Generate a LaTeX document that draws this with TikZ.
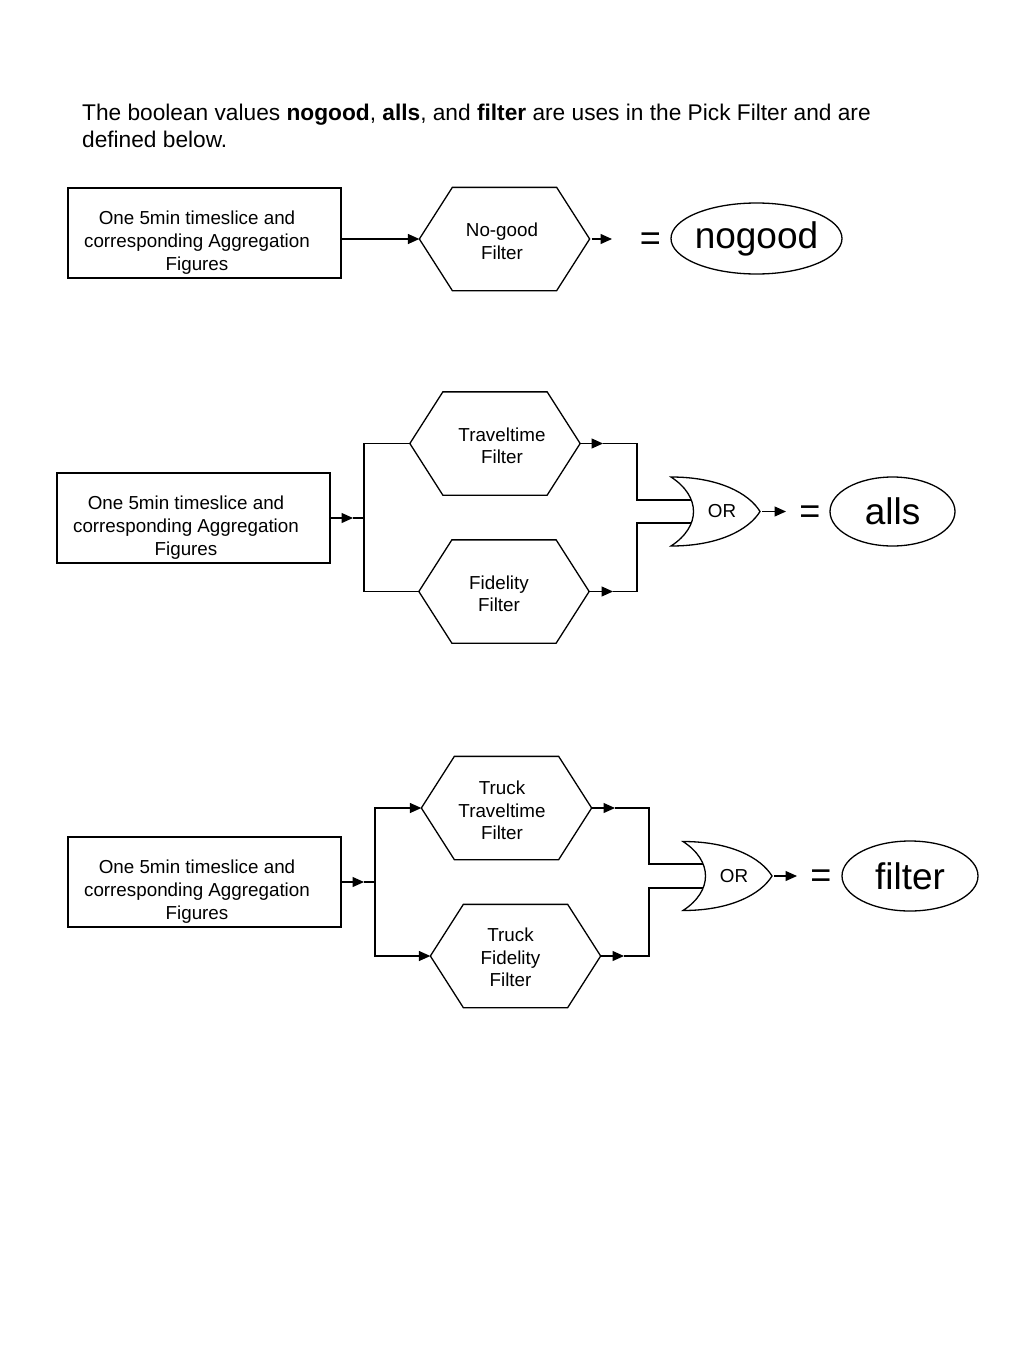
\documentclass[tikz,border=0pt]{standalone}
\usepackage{fontspec}
\setmainfont{Liberation Sans}
\usetikzlibrary{arrows.meta,shapes.geometric}
\newcommand\hexshape[1]{\draw (#1.west) -- ([xshift=33pt]#1.north west) -- ([xshift=-33pt]#1.north east) -- (#1.east) -- ([xshift=-33pt]#1.south east) -- ([xshift=33pt]#1.south west) -- cycle;}
\newcommand\orgate[3]{%
  \coordinate (#1-tip) at (#2+91,#3);
  \draw[fill=white] (#2+2,#3-34.5) .. controls (#2+32,#3-15) and (#2+32,#3+15) .. (#2+2,#3+34.5)
     .. controls (#2+50,#3+34.5) and (#2+80,#3+18) .. (#1-tip)
     .. controls (#2+80,#3-18) and (#2+50,#3-34.5) .. (#2+2,#3-34.5) -- cycle;
  \node[gatetext] (#1) at (#2+53,#3) {OR};
}
\begin{document}
\begin{tikzpicture}[x=1pt,y=-1pt,line width=1.3pt,
  >={Triangle[length=11.5pt,width=10pt]},
  box/.style={draw, minimum width=273pt, minimum height=90pt, inner sep=0pt},
  boxtext/.style={inner sep=0pt, align=center, font=\fontsize{18.8}{23}\selectfont, text height=75.6pt, text depth=0pt},
  hexa/.style={minimum width=169pt, minimum height=102pt, inner sep=0pt},
  hextext/.style={inner sep=0pt, align=center, font=\fontsize{18.8}{22.5}\selectfont, text height=40.6pt, text depth=0pt},
  gatetext/.style={inner sep=0pt, font=\fontsize{18.8}{22}\selectfont},
  eqsign/.style={inner sep=0pt, font=\fontsize{36}{40}\selectfont},
  result/.style={draw, ellipse, inner sep=0pt, font=\fontsize{37}{40}\selectfont}]
\useasboundingbox (0,0) rectangle (1024,1365);

\node[anchor=north west, inner sep=0pt, align=left, font=\fontsize{22.7}{27}\selectfont] (title) at (81.5,103.5)
  {The boolean values \textbf{nogood}, \textbf{alls}, and \textbf{filter} are uses in the Pick Filter and are\\defined below.};

% ---------- section 1
\node[box] (b1) at (204.5,233) {};
\node[boxtext] (b1t) at ([xshift=-7.5pt]b1.center) {One 5min timeslice and\\corresponding Aggregation\\Figures};
\node[hexa] (h1) at (504.5,239) {};
\hexshape{h1}
\node[hextext] (h1t) at ([xshift=-2.5pt]h1.center) {No-good\\Filter};
\draw[->] (b1.east |- h1.west) -- (h1.west);
\coordinate (e1) at (612,239);
\draw[->] ([xshift=2pt]h1.east) -- (e1);
\node[eqsign] (eq1) at (650.5,242) {=};
\node[result, minimum width=171pt, minimum height=71pt] (r1) at (756.5,238.5) {\makebox[0pt]{nogood}};

% ---------- section 2
\node[box] (b2) at (193.5,518) {};
\node[boxtext] (b2t) at ([xshift=-7.5pt]b2.center) {One 5min timeslice and\\corresponding Aggregation\\Figures};
\node[hexa] (h2a) at (495,443.5) {};
\node[hexa] (h2b) at (504,591.5) {};
\hexshape{h2a}
\hexshape{h2b}
\node[hextext] (h2at) at ([xshift=7pt]h2a.center) {Traveltime\\Filter};
\node[hextext] (h2bt) at ([xshift=-5pt]h2b.center) {Fidelity\\Filter};
\coordinate (j2a) at (353,518);
\coordinate (j2) at (364,518);
\draw[->] (b2.east) -- (j2a);
\draw (j2a) -- (j2) |- (h2a.west);
\draw (j2) |- (h2b.west);
\coordinate (o2a) at (603,443.5);
\coordinate (o2b) at (613,591.5);
\coordinate (k2) at (637,511.5);
\coordinate (g2a) at (699,500);
\coordinate (g2b) at (699,523);
\draw[->] (h2a.east) -- (o2a);
\draw[->] (h2b.east) -- (o2b);
\draw (o2a) -- (o2a -| k2) |- (g2a);
\draw (o2b) -- (o2b -| k2) |- (g2b);
\orgate{g2}{669}{511.5}
\coordinate (e2) at (786,511.5);
\draw[->] ([xshift=2pt]g2-tip) -- (e2);
\node[eqsign] (eq2) at (810,514.5) {=};
\node[result, minimum width=125pt, minimum height=69pt] (r2) at (892.5,511.5) {\makebox[0pt]{alls}};

% ---------- section 3
\node[box] (b3) at (204.5,882) {};
\node[boxtext] (b3t) at ([xshift=-7.5pt]b3.center) {One 5min timeslice and\\corresponding Aggregation\\Figures};
\node[hexa] (h3a) at (506.5,808) {};
\node[hexa] (h3b) at (515.5,956) {};
\hexshape{h3a}
\hexshape{h3b}
\node[hextext, text height=63.6pt] (h3at) at ([xshift=-4.5pt]h3a.center) {Truck\\Traveltime\\Filter};
\node[hextext, text height=61.6pt] (h3bt) at ([xshift=-5pt]h3b.center) {Truck\\Fidelity\\Filter};
\coordinate (j3a) at (364,882);
\coordinate (j3) at (375,882);
\draw[->] (b3.east) -- (j3a);
\draw (j3a) -- (j3);
\draw[->] (j3) |- (h3a.west);
\draw[->] (j3) |- (h3b.west);
\coordinate (o3a) at (615,808);
\coordinate (o3b) at (624,956);
\coordinate (k3) at (649,876);
\coordinate (g3a) at (711,864);
\coordinate (g3b) at (711,888);
\draw[->] (h3a.east) -- (o3a);
\draw[->] (h3b.east) -- (o3b);
\draw (o3a) -- (o3a -| k3) |- (g3a);
\draw (o3b) -- (o3b -| k3) |- (g3b);
\orgate{g3}{681}{876}
\coordinate (e3) at (797,876);
\draw[->] ([xshift=2pt]g3-tip) -- (e3);
\node[eqsign] (eq3) at (821,878.5) {=};
\node[result, minimum width=136pt, minimum height=70pt] (r3) at (910,876) {\makebox[0pt]{filter}};
\end{tikzpicture}
\end{document}
